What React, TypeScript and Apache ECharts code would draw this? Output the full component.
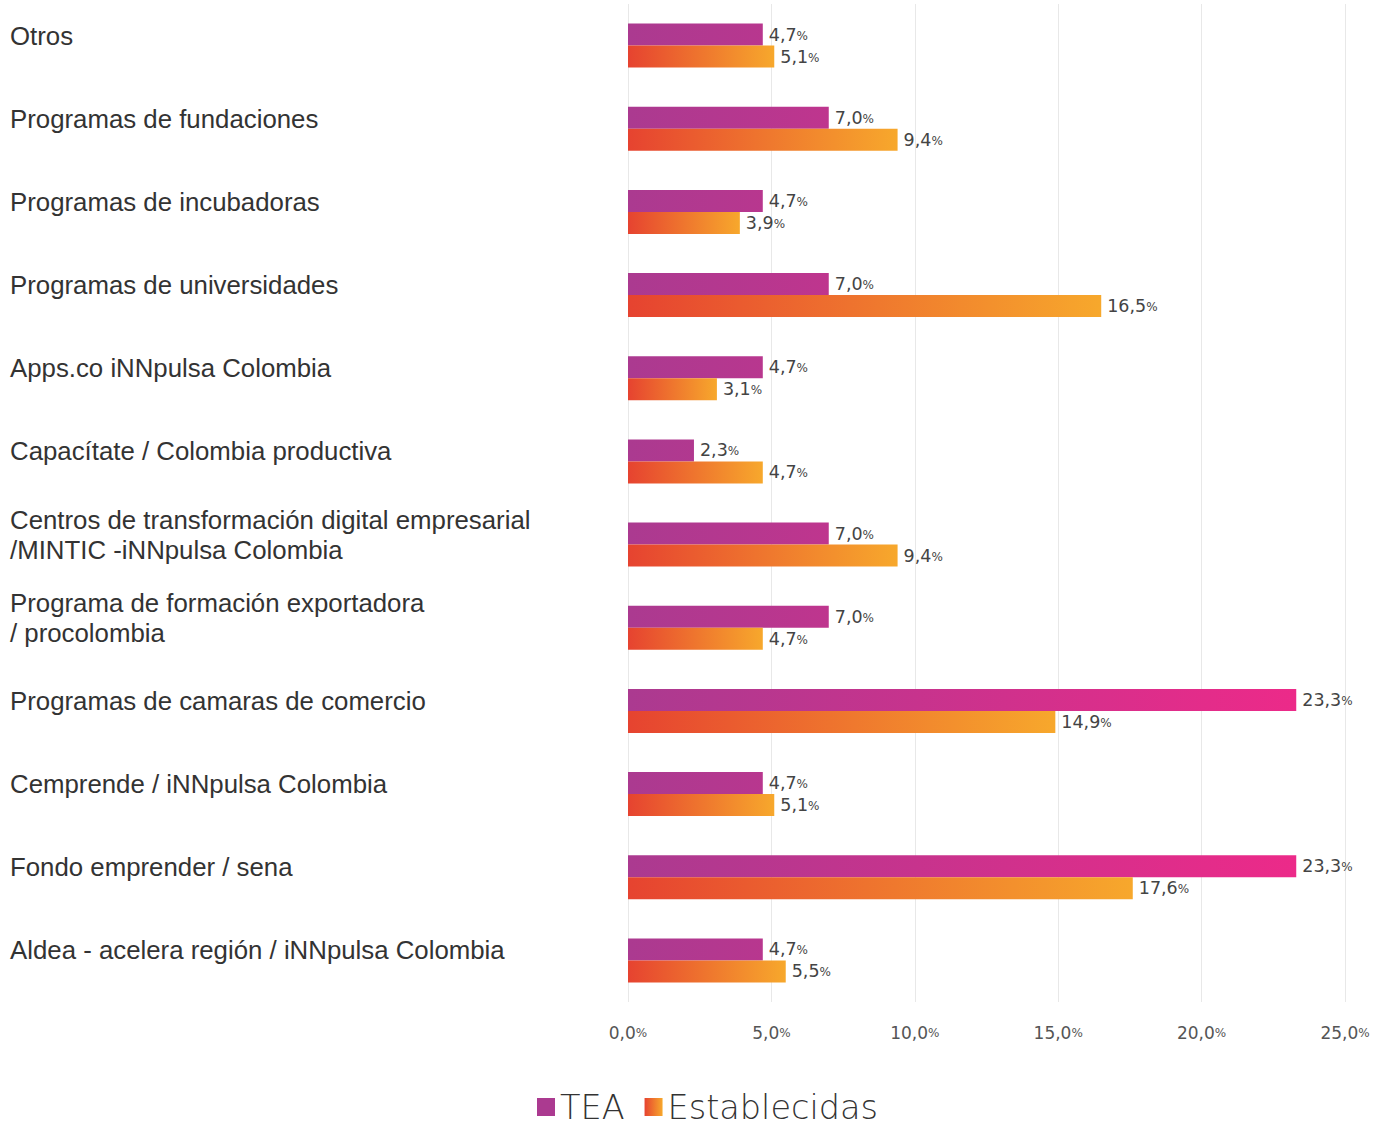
import React, { useEffect, useRef } from "react";
import * as echarts from "echarts";

const categories = [
  "Otros",
  "Programas de fundaciones",
  "Programas de incubadoras",
  "Programas de universidades",
  "Apps.co iNNpulsa Colombia",
  "Capacítate / Colombia productiva",
  "Centros de transformación digital empresarial\n/MINTIC -iNNpulsa Colombia",
  "Programa de formación exportadora\n/ procolombia",
  "Programas de camaras de comercio",
  "Cemprende / iNNpulsa Colombia",
  "Fondo emprender / sena",
  "Aldea - acelera región / iNNpulsa Colombia",
];

const teaValues = [4.7, 7.0, 4.7, 7.0, 4.7, 2.3, 7.0, 7.0, 23.3, 4.7, 23.3, 4.7];
const establecidasValues = [5.1, 9.4, 3.9, 16.5, 3.1, 4.7, 9.4, 4.7, 14.9, 5.1, 17.6, 5.5];

const seriesNames = ["TEA", "Establecidas"];
const axisMin = 0;
const axisMax = 25;
const axisInterval = 5;

const numFont = "DejaVu Sans";

function fmt(v: number) {
  return v.toFixed(1).replace(".", ",");
}

export default function App() {
  const ref = useRef<HTMLDivElement>(null);

  useEffect(() => {
    if (!ref.current) return;
    const chart = echarts.init(ref.current, undefined, { renderer: "svg" });

    const teaGradient = new echarts.graphic.LinearGradient(
      628, 0, 1296, 0,
      [
        { offset: 0, color: "#ab3a90" },
        { offset: 1, color: "#ec2a89" },
      ],
      true
    );
    const estGradient = new echarts.graphic.LinearGradient(0, 0, 1, 0, [
      { offset: 0, color: "#e64330" },
      { offset: 1, color: "#f7a82c" },
    ]);

    const valueLabel = {
      show: true,
      position: "right" as const,
      distance: 6,
      formatter: (p: any) => `{n|${fmt(p.value)}}{p|%}`,
      rich: {
        n: { fontSize: 17.5, color: "#444", fontFamily: numFont },
        p: { fontSize: 12, color: "#444", fontFamily: numFont, verticalAlign: "bottom" as const, padding: [0, 0, 2, 0] },
      },
    };

    chart.setOption({
      animation: false,
      backgroundColor: "#ffffff",
      grid: { left: 628, right: 36, top: 4, height: 998, containLabel: false },
      legend: {
        show: true,
        left: 532,
        top: 1085,
        icon: "rect",
        itemWidth: 18,
        itemHeight: 18,
        itemGap: 20,
        data: seriesNames,
        textStyle: {
          fontSize: 33.5,
          lineHeight: 34,
          color: "#333",
          fontFamily: "DejaVu Sans",
          fontWeight: 200,
        },
      },
      xAxis: {
        type: "value",
        min: axisMin,
        max: axisMax,
        interval: axisInterval,
        axisLine: { show: false },
        axisTick: { show: false },
        splitLine: { show: true, lineStyle: { color: "#e8e8e8", width: 1 } },
        axisLabel: {
          margin: 22,
          formatter: (v: number) => `{n|${fmt(v)}}{p|%}`,
          rich: {
            n: { fontSize: 17, color: "#555", fontFamily: numFont },
            p: { fontSize: 12, color: "#555", fontFamily: numFont, verticalAlign: "bottom" as const, padding: [0, 0, 2, 0] },
          },
        },
      },
      yAxis: {
        type: "category",
        inverse: true,
        data: categories,
        axisLine: { show: false },
        axisTick: { show: false },
        splitLine: { show: false },
        axisLabel: {
          align: "left",
          margin: 618,
          verticalAlign: "middle",
          formatter: (v: string) =>
            v.split("\n").map((l) => `{a|${l}}`).join("\n") + "\n{s| }",
          rich: {
            a: {
              fontSize: 25.8,
              lineHeight: 30,
              color: "#333",
              fontFamily: "Liberation Sans",
              align: "left",
            },
            s: { fontSize: 2, lineHeight: 20 },
          },
        },
      },
      series: [
        {
          name: seriesNames[0],
          type: "bar",
          data: teaValues,
          barWidth: 22,
          barGap: "0%",
          itemStyle: { color: teaGradient },
          label: valueLabel,
        },
        {
          name: seriesNames[1],
          type: "bar",
          data: establecidasValues,
          barWidth: 22,
          barGap: "0%",
          itemStyle: { color: estGradient },
          label: valueLabel,
        },
      ],
    });

    return () => chart.dispose();
  }, []);

  return (
    <div
      ref={ref}
      style={{ position: "absolute", left: 0, top: 0, width: 1381, height: 1126 }}
    />
  );
}
